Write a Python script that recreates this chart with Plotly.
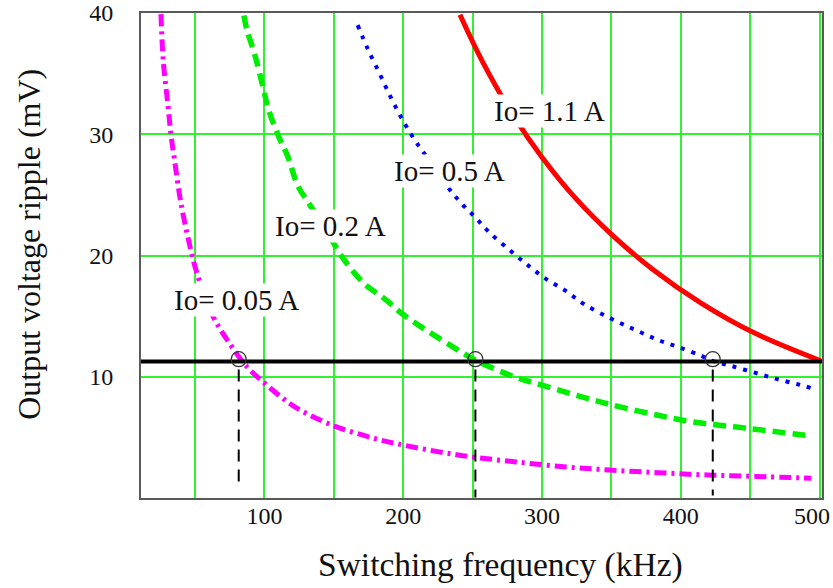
import plotly.graph_objects as go

# Output ripple vs switching frequency for four load currents
freq_005 = [25.5, 27.2, 30.8, 32.7, 35.1, 39.9, 46.9, 51.6, 62.0, 75.2, 87.2, 99.2,
            112.4, 124.3, 149.0, 179.3, 197.0, 229.7, 248.5, 280.0, 315.5, 348.4,
            383.6, 419.0, 454.4, 494.0]
ripple_005 = [39.9, 35.97, 32.1, 29.95, 28.0, 24.3, 20.5, 18.46, 15.2, 12.7, 10.85, 9.56,
              8.3, 7.35, 6.0, 4.91, 4.44, 3.73, 3.4, 2.99, 2.58, 2.31,
              2.09, 1.9, 1.78, 1.63]

freq_02 = [85.2, 87.2, 93.2, 99.2, 102.8, 110.7, 116.4, 124.3, 132.6, 146.3, 156.5,
           171.7, 186.9, 199.5, 217.1, 242.4, 252.5, 277.7, 300.4, 333.2, 348.4,
           383.6, 408.9, 449.3, 494.7]
ripple_02 = [39.8, 38.7, 36.5, 33.8, 32.1, 29.7, 28.3, 25.7, 24.2, 21.7, 19.8,
             17.7, 16.4, 15.17, 13.8, 12.0, 11.34, 10.1, 9.29, 8.2, 7.73,
             6.82, 6.27, 5.73, 5.1]

freq_05 = [167.2, 174.2, 182.6, 190.6, 199.0, 209.0, 214.0, 229.7, 241.1, 251.5, 262.1,
           278.2, 290.9, 303.0, 316.9, 329.5, 349.6, 367.3, 383.5, 398.6, 414.3,
           422.0, 435.2, 451.9, 468.3, 485.5, 494.0]
ripple_05 = [39.0, 37.1, 35.1, 33.15, 31.3, 29.4, 28.6, 26.0, 24.4, 23.2, 21.9,
             20.3, 19.1, 18.05, 17.1, 16.04, 14.8, 13.86, 13.04, 12.43, 11.75,
             11.34, 10.93, 10.38, 9.84, 9.34, 9.06]

freq_11 = [240.9, 257.2, 280.0, 300.1, 324.1, 350.6, 379.6, 414.9, 452.8, 501.5]
ripple_11 = [39.85, 35.97, 31.41, 28.09, 24.73, 21.68, 18.87, 16.05, 13.62, 11.28]

# Ripple specification and the frequencies where each curve meets it
RIPPLE_LIMIT = 11.25
cross_freq = [81.5, 252.0, 423.0]
cross_ripple = [11.45, 11.45, 11.45]
drop_top = [10.6, 10.6, 10.6]
drop_bottom = [0.9, 0.05, 0.2]

# Curve labels
curve_labels = ["Io= 0.05 A", "Io= 0.2 A", "Io= 0.5 A", "Io= 1.1 A"]
label_freq = [80.2, 147.7, 233.6, 305.6]
label_ripple = [16.35, 22.4, 27.0, 31.9]

# Axes
X_RANGE = [11.1, 501.7]
Y_RANGE = [0, 40]
x_tick_vals = [50, 100, 150, 200, 250, 300, 350, 400, 450, 500]
x_tick_text = ["", "100", "", "200", "", "300", "", "400", "", ""]
X_LAST_TICK = 500          # labelled separately so it stays inside the page
y_tick_vals = [10, 20, 30, 40]
y_tick_text = ["10", "20", "30", "40"]

SERIF = "Liberation Serif, Times New Roman, serif"
GRID = "#33f033"
INK = "#111111"

fig = go.Figure()

fig.add_trace(go.Scatter(x=freq_005, y=ripple_005, mode="lines",
                         line=dict(color="#ff00ff", width=5, dash="12px,5px,3px,5px",
                                   shape="spline", smoothing=1.0)))
fig.add_trace(go.Scatter(x=freq_02, y=ripple_02, mode="lines",
                         line=dict(color="#00ee00", width=5.5, dash="13px,7px",
                                   shape="spline", smoothing=1.0)))
fig.add_trace(go.Scatter(x=freq_05, y=ripple_05, mode="lines",
                         line=dict(color="#0000ff", width=4, dash="4px,7px",
                                   shape="spline", smoothing=1.0)))
fig.add_trace(go.Scatter(x=freq_11, y=ripple_11, mode="lines",
                         line=dict(color="#ff0000", width=5,
                                   shape="spline", smoothing=1.0)))

# Ripple limit
fig.add_trace(go.Scatter(x=X_RANGE, y=[RIPPLE_LIMIT, RIPPLE_LIMIT], mode="lines",
                         line=dict(color="#000000", width=4)))

# Drop lines from the crossing points to the frequency axis
drop_x, drop_y = [], []
for f, top, bot in zip(cross_freq, drop_top, drop_bottom):
    drop_x += [f, f, None]
    drop_y += [top, bot, None]
fig.add_trace(go.Scatter(x=drop_x, y=drop_y, mode="lines",
                         line=dict(color="#000000", width=2, dash="12px,8px")))

fig.add_trace(go.Scatter(x=cross_freq, y=cross_ripple, mode="markers",
                         marker=dict(symbol="circle-open", size=15, color="#333333",
                                     line=dict(width=1.3, color="#333333"))))

for text, fx, ry in zip(curve_labels, label_freq, label_ripple):
    fig.add_annotation(x=fx, y=ry, xref="x", yref="y", text=text, showarrow=False,
                       font=dict(family=SERIF, size=29, color=INK),
                       bgcolor="white", borderpad=0,
                       xanchor="center", yanchor="middle")

fig.add_annotation(x=X_LAST_TICK, y=0, xref="x", yref="paper", text=str(X_LAST_TICK),
                   showarrow=False, font=dict(family=SERIF, size=24, color=INK),
                   xanchor="center", yanchor="top", xshift=-8, yshift=-3)

fig.add_annotation(x=0.5286, y=-0.1375, xref="paper", yref="paper",
                   text="Switching frequency (kHz)", showarrow=False,
                   font=dict(family=SERIF, size=33.5, color=INK),
                   xanchor="center", yanchor="middle")
fig.add_annotation(x=-0.1645, y=0.524, xref="paper", yref="paper",
                   text="Output voltage ripple (mV)", showarrow=False, textangle=-90,
                   font=dict(family=SERIF, size=32, color=INK),
                   xanchor="center", yanchor="middle")

fig.update_layout(
    width=833, height=588,
    margin=dict(l=141, r=11, t=13, b=90, autoexpand=False),
    paper_bgcolor="white", plot_bgcolor="white",
    showlegend=False,
    font=dict(family=SERIF, color=INK),
)
fig.update_xaxes(range=X_RANGE, tickvals=x_tick_vals, ticktext=x_tick_text,
                 automargin=False,
                 showgrid=True, gridcolor=GRID, gridwidth=1.5, zeroline=False,
                 showline=True, linecolor="#5a5a5a", linewidth=2, mirror=True,
                 ticks="", ticklabelstandoff=-5,
                 tickfont=dict(family=SERIF, size=24, color=INK))
fig.update_yaxes(range=Y_RANGE, tickvals=y_tick_vals, ticktext=y_tick_text,
                 automargin=False,
                 showgrid=True, gridcolor=GRID, gridwidth=1.5, zeroline=False,
                 showline=True, linecolor="#5a5a5a", linewidth=2, mirror=True,
                 ticks="", ticklabelstandoff=21,
                 tickfont=dict(family=SERIF, size=24, color=INK))

fig.write_html("out.html")
